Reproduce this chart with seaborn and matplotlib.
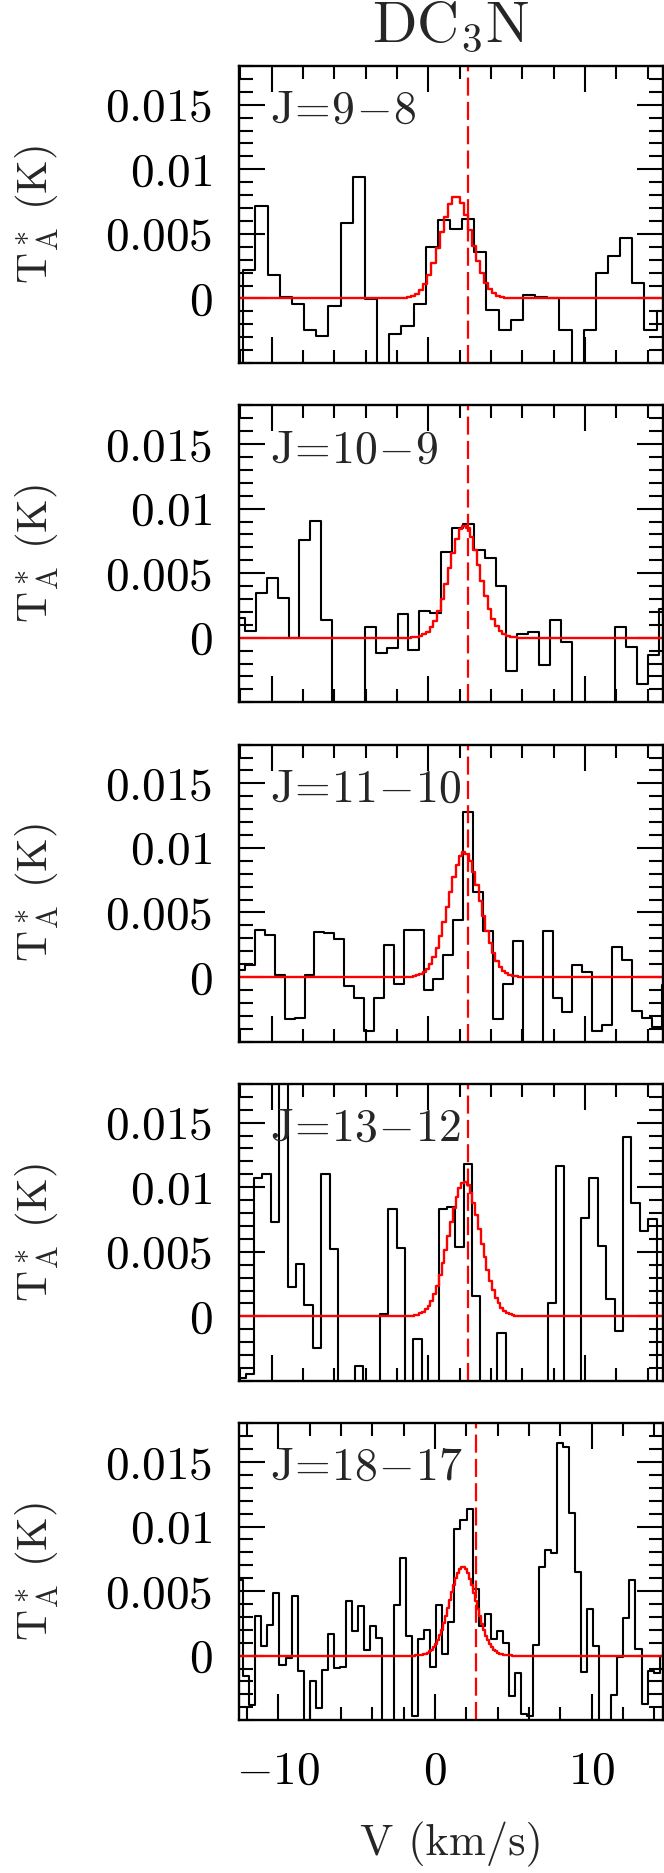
import numpy as np
import matplotlib
matplotlib.use("Agg")
import matplotlib.pyplot as plt
from matplotlib.ticker import MultipleLocator, FixedLocator
import seaborn as sns

# ---------------- data ----------------
title = r"$\mathrm{DC_3N}$"
line_labels = [r"$\mathrm{J\!=\!9\!-\!8}$", r"$\mathrm{J\!=\!10\!-\!9}$",
               r"$\mathrm{J\!=\!11\!-\!10}$", r"$\mathrm{J\!=\!13\!-\!12}$",
               r"$\mathrm{J\!=\!18\!-\!17}$"]

# channel grid: left edge of first channel (km/s) and channel width (km/s)
chan_start = [-12.585, -12.397, -12.335, -12.195, -12.623]
chan_width = [0.776, 0.6954, 0.6332, 0.5353, 0.3851]

spec_98 = [-0.007, 0.00222, 0.00719, 0.0018, 0.00013, -0.00046, -0.00247, -0.00291,
           -0.00059, 0.00585, 0.00941, -0.00008, -0.007, -0.00278, -0.00214, -0.00046,
           0.00397, 0.00606, 0.00539, 0.00616, 0.00356, -0.0009, -0.00247, -0.0017,
           0.00026, 0.00013, 0.0, -0.00247, -0.007, -0.00247, 0.00196, 0.00332,
           0.00466, 0.00119, -0.00242, -0.001, -0.001]
spec_109 = [0.0015, 0.00052, 0.00345, 0.00461, 0.00304, 0.0, 0.00758, 0.00902,
            0.00134, -0.007, -0.007, -0.007, 0.00082, -0.00119, -0.00082, 0.0018,
            -0.00093, 0.00206, 0.00193, 0.00662, 0.0085, 0.00881, 0.00678, 0.00616,
            0.00397, -0.00255, 0.00026, 0.00044, -0.00211, 0.00134, -0.00036, -0.007,
            -0.007, -0.007, -0.007, 0.00082, -0.0007, -0.00361, -0.00134, 0.00219]
spec_1110 = [0.00057, 0.00095, 0.00366, 0.00322, 0.00013, -0.00325, -0.00317, 0.00018,
             0.00351, 0.0034, 0.00296, -0.00072, -0.00162, -0.0042, -0.00162, 0.0025,
             -0.00054, 0.00366, 0.00366, -0.00103, -0.00015, 0.00173, 0.00443, 0.01276,
             0.00662, 0.00353, -0.00325, -0.00052, 0.00276, -0.007, -0.007, 0.00358,
             -0.00162, -0.00271, 0.00095, 0.00039, -0.0042, -0.00369, 0.00229, 0.00131,
             -0.00265, -0.00317, -0.00389, -0.0006]
spec_1312 = [-0.0048, -0.00447, 0.0107, 0.01103, 0.00734, 0.02, 0.00225, 0.00408,
             0.00088, -0.00243, 0.01103, 0.00525, -0.007, -0.007, -0.00382, -0.007,
             -0.007, 0.00016, 0.00832, 0.00532, -0.007, -0.00176, -0.007, -0.007,
             0.00829, 0.00845, 0.0054, 0.01178, 0.00158, -0.007, -0.007, -0.00127,
             -0.007, -0.007, -0.007, -0.007, -0.007, 0.00106, 0.01168, -0.007,
             -0.007, 0.00765, 0.0107, 0.00545, 0.00134, -0.00111, 0.01388, 0.00876,
             0.00661, 0.00752, -0.007]
spec_1817 = [0.00589, -0.0016, -0.00385, 0.00305, 0.00072, 0.0024, 0.00483, -0.0007,
             -0.00018, 0.0046, -0.00121, -0.007, -0.00199, -0.00406, -0.00109, 0.00168,
             -0.00096, -0.0009, 0.00426, 0.00189, 0.00382, 0.00041, 0.00233, 0.00137,
             -0.007, -0.007, 0.00395, 0.00757, 0.00155, -0.0047, 0.00129, 0.00196,
             -0.0009, 0.00395, 0.0001, 0.0026, 0.00977, 0.01054, 0.01132, 0.00517,
             0.00227, 0.00323, 0.00129, 0.00194, 0.00098, -0.0031, -0.00134, -0.00452,
             -0.00465, 0.00085, 0.00687, 0.00817, 0.00796, 0.01643, 0.01618, 0.01106,
             0.00649, -0.00129, 0.00362, 0.00078, -0.007, -0.007, -0.00307, -0.00013,
             0.00292, 0.00589, 0.00052, -0.00372, -0.00121, -0.00134, -0.00005]
spectra = [spec_98, spec_109, spec_1110, spec_1312, spec_1817]

# Gaussian fits (red): amplitude (K), centre (km/s), FWHM (km/s)
fit_amp = [0.00791, 0.00869, 0.00966, 0.01039, 0.00685]
fit_cen = [1.77, 2.31, 2.31, 2.32, 1.80]
fit_fwhm = [2.34, 2.28, 2.40, 2.38, 2.02]

# systemic velocity marker (dashed)
v_sys = [2.53, 2.53, 2.53, 2.53, 2.64]

# velocity ranges of the panels
x_range = [(-12.085, 15.0)] * 4 + [(-12.51, 14.57)]
y_range = (-0.005, 0.018)
y_ticks = [0, 0.005, 0.01, 0.015]
y_ticklabels = [r"$0$", r"$0.005$", r"$0.01$", r"$0.015$"]
x_ticks = [-10, 0, 10]
x_ticklabels = [r"$-10$", r"$0$", r"$10$"]

# ---------------- style ----------------
sns.set_theme(style="ticks")
plt.rcParams.update({
    "font.family": ["cmr10", "DejaVu Serif"],
    "mathtext.fontset": "cm",
    "axes.unicode_minus": False,
    "axes.linewidth": 1.7,
    "axes.edgecolor": "black",
    "xtick.color": "black", "ytick.color": "black",
    "xtick.direction": "in", "ytick.direction": "in",
    "xtick.top": True, "ytick.right": True,
    "xtick.major.size": 18.5, "xtick.minor.size": 9.5,
    "ytick.major.size": 18.5, "ytick.minor.size": 9.8,
    "xtick.major.width": 1.5, "xtick.minor.width": 1.5,
    "ytick.major.width": 1.5, "ytick.minor.width": 1.5,
    "lines.scale_dashes": False,
})

W, H = 664, 1873
fig = plt.figure(figsize=(W / 100, H / 100), dpi=100)
left_px, right_px = 239, 663.3
top0, step, ph = 66, 339.3, 297

for i in range(5):
    top = top0 + step * i
    ax = fig.add_axes([left_px / W, 1 - (top + ph) / H, (right_px - left_px) / W, ph / H])
    vals = np.asarray(spectra[i])
    edges = chan_start[i] + chan_width[i] * np.arange(len(vals) + 1)
    sns.lineplot(x=edges, y=np.append(vals, vals[-1]), drawstyle="steps-post",
                 color="black", lw=1.5, ax=ax, estimator=None, sort=False)

    x0, x1 = x_range[i]
    dvf = chan_width[i] / 3
    vf = np.arange(x0 - dvf, x1 + 2 * dvf, dvf)
    model = fit_amp[i] * np.exp(-4 * np.log(2) * (vf - fit_cen[i]) ** 2 / fit_fwhm[i] ** 2)
    sns.lineplot(x=vf, y=model, drawstyle="steps-mid", color="red", lw=1.7,
                 ax=ax, estimator=None, sort=False)

    ax.axvline(v_sys[i], color="red", lw=1.6, dashes=(13, 4.5))

    ax.set_xlim(x0, x1)
    ax.set_ylim(*y_range)
    ax.xaxis.set_major_locator(FixedLocator(x_ticks))
    ax.xaxis.set_minor_locator(MultipleLocator(2))
    ax.yaxis.set_major_locator(FixedLocator(y_ticks))
    ax.yaxis.set_minor_locator(MultipleLocator(0.001))
    ax.set_yticklabels(y_ticklabels)
    ax.tick_params(axis="y", which="major", labelsize=34, pad=19)
    ax.tick_params(which="both", top=True, right=True, direction="in")

    ax.text(0.073, 0.808, line_labels[i], transform=ax.transAxes, fontsize=33,
            ha="left", va="baseline")

    ax.set_ylabel(r"$\mathrm{T_A^*\ (K)}$", fontsize=31)
    ax.yaxis.set_label_coords(-0.42, 0.5)

    if i < 4:
        ax.tick_params(axis="x", labelbottom=False)
        ax.set_xlabel("")
    else:
        ax.set_xticklabels(x_ticklabels)
        ax.tick_params(axis="x", which="major", labelsize=34, pad=22)
        ax.set_xlabel("V (km/s)", fontsize=32)
        ax.xaxis.set_label_coords(0.5, -0.343)

fig.text(451 / W, 1 - 41.7 / H, title, fontsize=42, ha="center", va="baseline")

fig.savefig("out.png", dpi=100)
